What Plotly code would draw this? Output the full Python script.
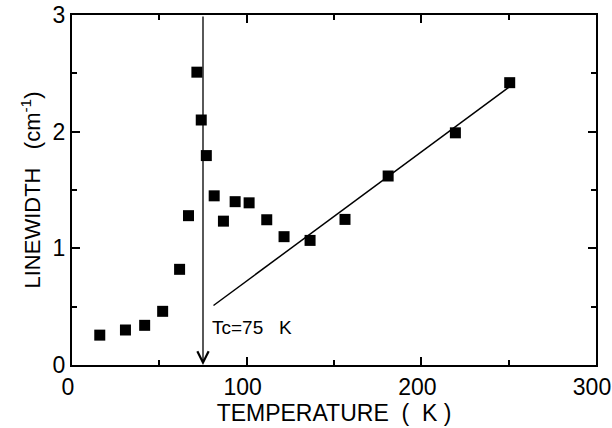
import plotly.graph_objects as go

# Measured linewidth vs temperature
temperature_K = [15.9, 30.6, 41.6, 51.9, 61.6, 66.7, 71.5, 74.0, 76.9, 81.4,
                 86.7, 93.4, 101.4, 111.5, 121.4, 136.3, 156.3, 181.0, 219.5, 250.6]
linewidth_cm = [0.256, 0.30, 0.34, 0.46, 0.82, 1.28, 2.51, 2.10, 1.795, 1.45,
                1.233, 1.40, 1.39, 1.245, 1.10, 1.068, 1.248, 1.62, 1.99, 2.42]

# Linear high-temperature trend
fit_T = [81.0, 250.0]
fit_w = [0.51, 2.38]

# Transition temperature marker
Tc = 75
x_ticks = [0, 100, 200, 300]
y_ticks = [0, 1, 2, 3]

FONT = "Liberation Sans, Arial, sans-serif"

fig = go.Figure()

fig.add_trace(go.Scatter(
    x=fit_T, y=fit_w, mode="lines",
    line=dict(color="black", width=1.5),
    showlegend=False, hoverinfo="skip",
))

fig.add_trace(go.Scatter(
    x=temperature_K, y=linewidth_cm, mode="markers",
    marker=dict(symbol="square", size=11, color="black"),
    showlegend=False,
))

# Vertical arrow at Tc, from the top of the frame down to the axis
fig.add_annotation(
    x=Tc, y=0, ax=Tc, ay=3,
    xref="x", yref="y", axref="x", ayref="y",
    showarrow=True, arrowhead=5, arrowsize=1.7, arrowwidth=1.3,
    arrowcolor="black", text="",
)

fig.add_annotation(
    x=Tc + 4, y=0.32, xref="x", yref="y",
    text=f"Tc={Tc}&nbsp;&nbsp; K", showarrow=False,
    xanchor="left", yanchor="middle",
    font=dict(family=FONT, size=19, color="black"),
)

axis_common = dict(
    showline=True, linecolor="black", linewidth=2.2, mirror="allticks",
    ticks="inside", ticklen=8, tickwidth=1.6, tickcolor="black",
    showgrid=False, zeroline=False,
    tickfont=dict(family=FONT, size=23, color="black"),
)

fig.update_xaxes(
    range=[0, 300], tickvals=x_ticks,
    minor=dict(tickvals=[50, 150, 250], ticks="inside", ticklen=5,
               tickwidth=1.6, tickcolor="black"),
    title=dict(text="TEMPERATURE&nbsp; (&nbsp; K )",
               font=dict(family=FONT, size=23, color="black"), standoff=4),
    ticklabelshift=-4,
    **axis_common,
)
fig.update_yaxes(
    range=[0, 3], tickvals=y_ticks,
    minor=dict(tickvals=[0.5, 1.5, 2.5], ticks="inside", ticklen=5,
               tickwidth=1.6, tickcolor="black"),
    title=dict(text="LINEWIDTH&nbsp;&nbsp; (cm<sup>-1</sup>)",
               font=dict(family=FONT, size=22, color="black"), standoff=6),
    **axis_common,
)

fig.update_layout(
    width=612, height=428,
    margin=dict(l=72, r=16, t=15, b=63, autoexpand=False),
    plot_bgcolor="white", paper_bgcolor="white",
    showlegend=False,
)

fig.write_html("out.html")
